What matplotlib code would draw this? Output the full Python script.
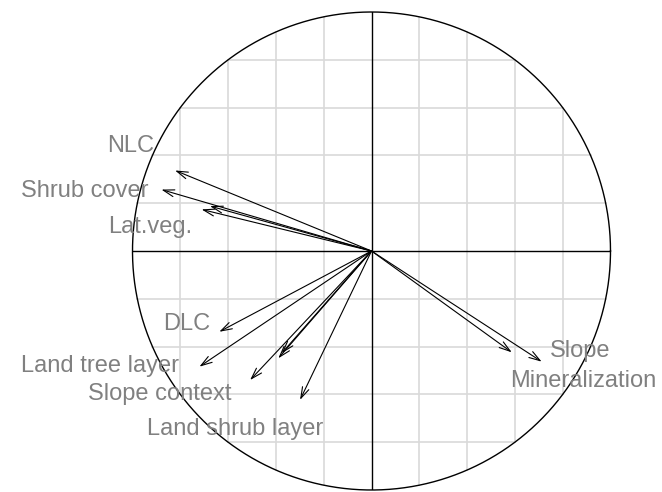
import numpy as np
import matplotlib
matplotlib.use("Agg")
import matplotlib.pyplot as plt

# correlation circle: variable coordinates on the two axes
variables = ["NLC", "Shrub cover", "Lat.veg.", "", "DLC", "Land tree layer",
             "Slope context", "Land shrub layer", "", "", "Slope", "Mineralization"]
axis1 = [-0.822, -0.879, -0.711, -0.676, -0.637, -0.720,
         -0.508, -0.299, -0.390, -0.376, 0.587, 0.712]
axis2 = [0.337, 0.257, 0.174, 0.188, -0.338, -0.484,
         -0.540, -0.623, -0.449, -0.428, -0.424, -0.463]

# where each label sits (data units)
label_pos = {
    "NLC": (-1.008, 0.416),
    "Shrub cover": (-1.200, 0.224),
    "Lat.veg.": (-0.925, 0.077),
    "DLC": (-0.772, -0.331),
    "Land tree layer": (-1.137, -0.505),
    "Slope context": (-0.887, -0.623),
    "Land shrub layer": (-0.570, -0.770),
    "Slope": (0.871, -0.442),
    "Mineralization": (0.884, -0.570),
}

grid_vals = [-0.8, -0.6, -0.4, -0.2, 0.2, 0.4, 0.6, 0.8]

fig = plt.figure(figsize=(6.62, 4.92), dpi=100)
ax = fig.add_axes([132.5 / 662, 2 / 492, 478 / 662, 478 / 492])
ax.set_xlim(-1, 1)
ax.set_ylim(-1, 1)
ax.axis("off")

# grid clipped to the circle
for v in grid_vals:
    h = np.sqrt(1 - v ** 2)
    ax.plot([v, v], [-h, h], color="#d9d9d9", lw=1.2, zorder=1)
    ax.plot([-h, h], [v, v], color="#d9d9d9", lw=1.2, zorder=1)

ax.plot([-1, 1], [0, 0], color="black", lw=1.0, zorder=2)
ax.plot([0, 0], [-1, 1], color="black", lw=1.0, zorder=2)

t = np.linspace(0, 2 * np.pi, 400)
ax.plot(np.cos(t), np.sin(t), color="black", lw=1.0, zorder=2, clip_on=False)

for name, x, y in zip(variables, axis1, axis2):
    ax.annotate("", xy=(x, y), xytext=(0, 0),
                arrowprops=dict(arrowstyle="->,head_length=0.8,head_width=0.25",
                                color="black", lw=0.8, shrinkA=0, shrinkB=0),
                zorder=3)
    if name in label_pos:
        lx, ly = label_pos[name]
        ax.text(lx, ly, name, ha="center", va="baseline", color="#808080",
                fontsize=17, family="Liberation Sans", clip_on=False, zorder=4)

fig.savefig("out.png", dpi=100)
